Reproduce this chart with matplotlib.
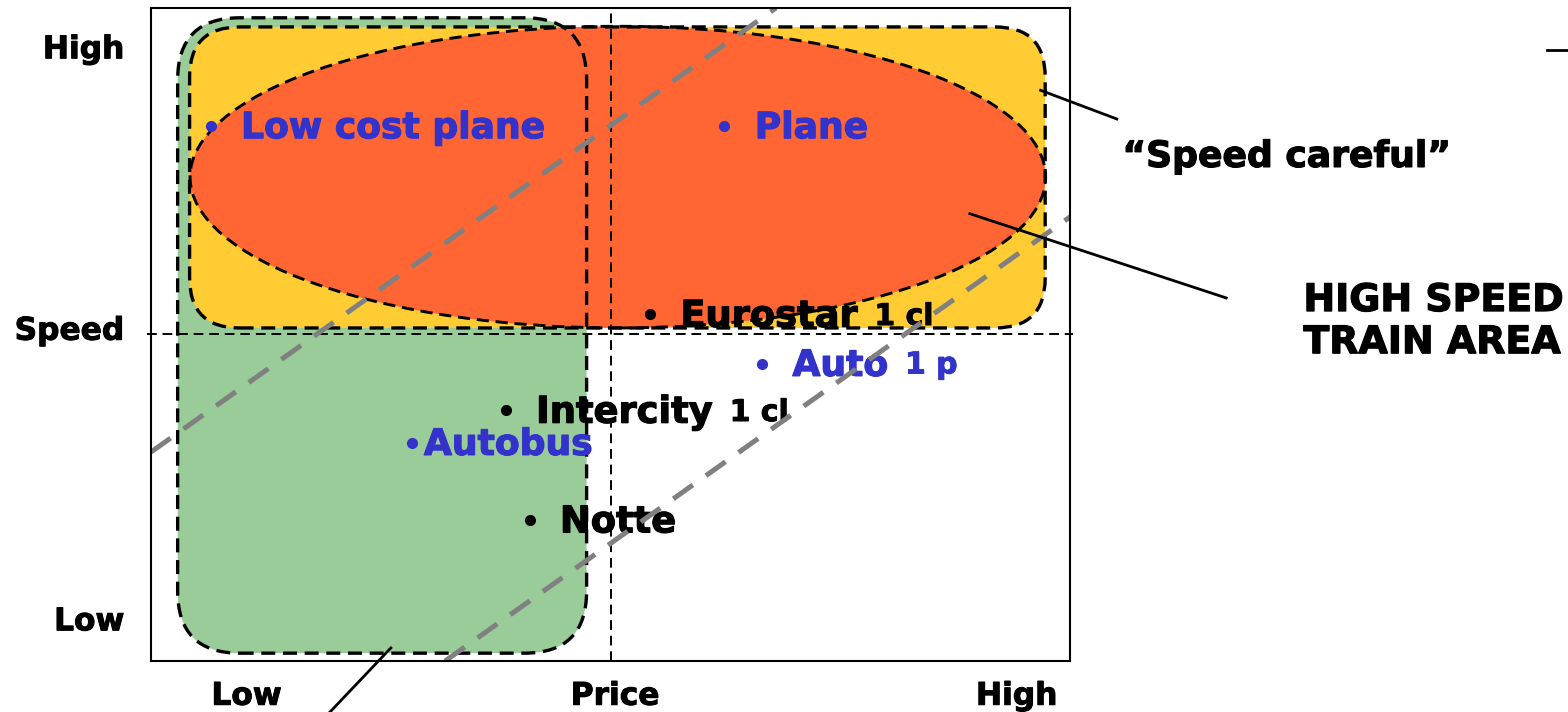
import matplotlib
matplotlib.use("Agg")
import matplotlib.pyplot as plt
from matplotlib.patches import FancyBboxPatch, Ellipse
import matplotlib.patheffects as pe

plt.rcParams['font.family'] = ['DejaVu Sans']
plt.rcParams['font.weight'] = 'bold'

# ---- data (price 0..10, speed 0..10) ----
point_names  = ["Low cost plane", "Plane", "Eurostar", "Auto", "Intercity", "Autobus", "Notte"]
point_suffix = ["", "", "1 cl", "1 p", "1 cl", "", ""]
point_price  = [0.65, 6.24, 5.43, 6.65, 3.86, 2.84, 4.12]
point_speed  = [8.19, 8.19, 5.31, 4.55, 3.84, 3.34, 2.16]
point_colors = ["#3333CC", "#3333CC", "black", "#3333CC", "black", "#3333CC", "black"]

mid_price = 5.0
mid_speed = 5.0

# regions: (x0, y0, x1, y1)
green_region  = (0.29, 0.12, 4.74, 9.85)
yellow_region = (0.42, 5.10, 9.73, 9.71)
red_ellipse_center = (5.08, 7.41)
red_ellipse_size   = (9.31, 4.62)

# parallel diagonal guides: speed = price + offset
diag_offsets = [3.2, -3.2]

speed_labels = ["High", "Speed", "Low"]
speed_label_pos = [9.36, 5.05, 0.60]
price_labels = ["Low", "Price", "High"]
price_label_pos = [1.04, 5.05, 9.42]

callouts = [
    ((9.68, 8.74), (10.51, 8.30)),
    ((8.91, 6.85), (11.70, 5.56)),
    ((2.61, 0.20), (1.80, -1.00)),
    ((15.19, 9.36), (15.6, 9.36)),
]
callout_texts = ["\u201cSpeed careful\u201d", "HIGH SPEED\nTRAIN AREA"]
callout_text_pos = [(10.57, 7.72), (12.54, 5.19)]

# ---- figure ----
W, H = 1568, 712
fig = plt.figure(figsize=(W / 100, H / 100), dpi=100)
ax = fig.add_axes([151 / W, (H - 661) / H, 919 / W, 653 / H])
ax.set_xlim(0, 10)
ax.set_ylim(0, 10)
ax.set_xticks([])
ax.set_yticks([])
for s in ax.spines.values():
    s.set_linewidth(1.5)
    s.set_zorder(10)

px_x = 919 / 10.0
px_y = 653 / 10.0
aspect = px_x / px_y
text_dy = -0.03

def heavy(c, w=0.9):
    return [pe.withStroke(linewidth=w, foreground=c)]

def rbox(region, r_px, fc, z):
    x0, y0, x1, y1 = region
    r = r_px / px_x
    return FancyBboxPatch((x0, y0), x1 - x0, (y1 - y0),
                          boxstyle=f"round,pad=0,rounding_size={r}",
                          mutation_aspect=aspect, fc=fc, ec="none", zorder=z)

dash = (0, (4.2, 2.3))
g = rbox(green_region, 62, "#99CC99", 1)
y = rbox(yellow_region, 50, "#FFCC33", 2)
e = Ellipse(red_ellipse_center, *red_ellipse_size, fc="#FF6633", ec="none", zorder=3)
for p in (g, y, e):
    ax.add_patch(p)

# outlines
go = rbox(green_region, 62, "none", 6); go.set_edgecolor("black"); go.set_linewidth(2.4); go.set_linestyle(dash)
yo = rbox(yellow_region, 50, "none", 6); yo.set_edgecolor("black"); yo.set_linewidth(2.4); yo.set_linestyle(dash)
eo = Ellipse(red_ellipse_center, *red_ellipse_size, fc="none", ec="black", lw=2.1, ls=dash, zorder=6)
for p in (go, yo, eo):
    ax.add_patch(p)

# mid lines
ax.plot([-0.04, 10.03], [mid_speed, mid_speed], color="black", lw=1.4, ls=(0, (5, 3)), clip_on=False, zorder=7)
ax.plot([mid_price, mid_price], [0, 9.95], color="black", lw=1.4, ls=(0, (5, 3)), clip_on=False, zorder=7)

# points and labels
for name, suf, xv, yv, c in zip(point_names, point_suffix, point_price, point_speed, point_colors):
    ax.plot(xv, yv, "o", color=c, ms=7, zorder=8)
    if name == "Autobus":
        t = ax.text(xv + 0.13, yv + text_dy, name, color=c, fontsize=26, fontweight="bold",
                    va="center", ha="left", zorder=8, path_effects=heavy(c))
    else:
        fs = 26.5 if c == "black" else 26
        t = ax.text(xv + 0.33, yv + text_dy, name, color=c, fontsize=fs, fontweight="bold",
                    va="center", ha="left", zorder=8, path_effects=heavy(c))
    if suf:
        ax.annotate(suf, xy=(1, 0.1), xycoords=t, xytext=(12, 0), textcoords="offset points",
                    color=c, fontsize=21.5, fontweight="bold", va="bottom", ha="left", zorder=8,
                    annotation_clip=False, path_effects=heavy(c, 0.7))

# diagonal guides
for off in diag_offsets:
    xs = [max(0, -off), min(10, 10 - off)]
    ys = [xv + off for xv in xs]
    ax.plot(xs, ys, color="#808080", lw=3.6, ls=(0, (4.8, 3.2)), zorder=9, solid_capstyle="butt")

# axis labels
for lab, yv in zip(speed_labels, speed_label_pos):
    ax.text(-0.29, yv, lab, fontsize=22.5, fontweight="bold", ha="right", va="center",
            clip_on=False, path_effects=heavy("black", 0.7))
for lab, xv in zip(price_labels, price_label_pos):
    ax.text(xv, -0.54, lab, fontsize=22.5, fontweight="bold", ha="center", va="center",
            clip_on=False, path_effects=heavy("black", 0.7))

# callouts
for (a, b) in callouts:
    ax.plot([a[0], b[0]], [a[1], b[1]], color="black", lw=2.0, clip_on=False, zorder=9)
ax.text(callout_text_pos[0][0], callout_text_pos[0][1], callout_texts[0], fontsize=26,
        fontweight="bold", ha="left", va="center", clip_on=False, path_effects=heavy("black"))
ax.text(callout_text_pos[1][0], callout_text_pos[1][1], callout_texts[1], fontsize=27.3,
        fontweight="bold", ha="left", va="center", clip_on=False, linespacing=1.22,
        path_effects=heavy("black"))

fig.savefig("out.png", dpi=100)
